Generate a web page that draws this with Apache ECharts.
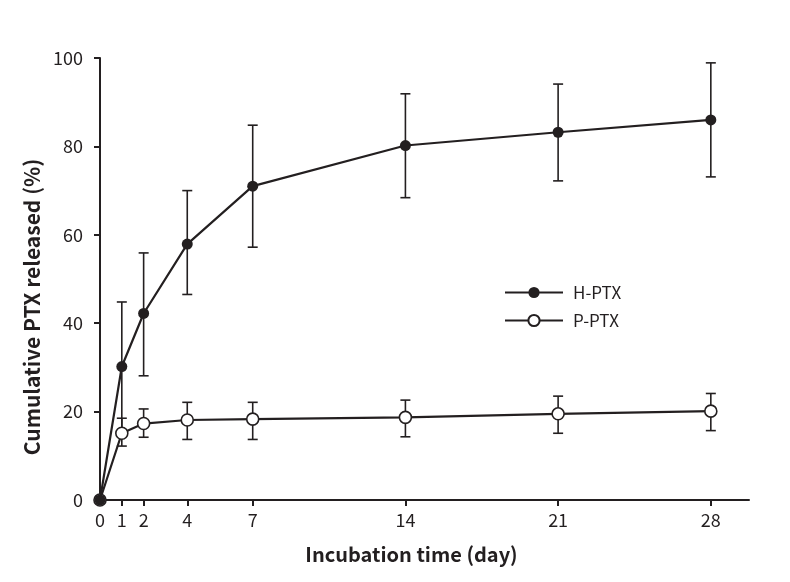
<!DOCTYPE html>
<html>
<head>
<meta charset="utf-8">
<script src="https://cdn.jsdelivr.net/npm/echarts@6/dist/echarts.min.js"></script>
<style>html,body{margin:0;padding:0;background:#fff;}#c{width:790px;height:582px;}</style>
</head>
<body>
<div id="c"></div>
<script>
// Data
const days = [0, 1, 2, 4, 7, 14, 21, 28];
const xTickValues = [0, 1, 2, 4, 7, 14, 21, 28];
const hMean = [0, 30.2, 42.2, 57.9, 71.0, 80.2, 83.2, 86.0];
const hLow  = [0, 15.6, 28.1, 46.5, 57.2, 68.4, 72.2, 73.1];
const hHigh = [0, 44.8, 55.9, 70.0, 84.8, 91.9, 94.1, 98.9];
const pMean = [0, 15.1, 17.3, 18.1, 18.3, 18.7, 19.5, 20.1];
const pLow  = [0, 12.2, 14.2, 13.7, 13.7, 14.3, 15.1, 15.7];
const pHigh = [0, 18.5, 20.6, 22.1, 22.1, 22.6, 23.5, 24.1];
const seriesNames = ['H-PTX', 'P-PTX'];
const yTitle = 'Cumulative PTX released (%)';
const xTitle = 'Incubation time (day)';

const ink = '#231f20';
const font = '"Noto Sans CJK KR", "Noto Sans", sans-serif';

function pairs(xs, ys) { return xs.map((x, i) => [x, ys[i]]); }
function errData(xs, lo, hi) {
  return xs.map((x, i) => [x, lo[i], hi[i]]).filter(d => d[2] - d[1] > 0.01);
}
function errRender(params, api) {
  const x = api.value(0);
  const a = api.coord([x, api.value(1)]);
  const b = api.coord([x, api.value(2)]);
  const w = 5;
  const st = { stroke: ink, lineWidth: 1.6 };
  return {
    type: 'group',
    children: [
      { type: 'line', shape: { x1: a[0], y1: a[1], x2: b[0], y2: b[1] }, style: st },
      { type: 'line', shape: { x1: a[0] - w, y1: a[1], x2: a[0] + w, y2: a[1] }, style: st },
      { type: 'line', shape: { x1: b[0] - w, y1: b[1], x2: b[0] + w, y2: b[1] }, style: st }
    ]
  };
}

const chart = echarts.init(document.getElementById('c'), null, { renderer: 'canvas' });
chart.setOption({
  animation: false,
  backgroundColor: '#fff',
  textStyle: { fontFamily: font },
  grid: { left: 100, top: 58, right: 41, bottom: 82, containLabel: false },
  legend: {
    left: 499, top: 279, orient: 'vertical', itemGap: 11,
    itemWidth: 58, itemHeight: 14,
    data: seriesNames,
    textStyle: { fontFamily: font, fontSize: 17, color: ink, padding: [0, 0, 0, 5] }
  },
  xAxis: {
    type: 'value', min: 0, max: 29.75,
    name: xTitle, nameLocation: 'middle', nameGap: 44,
    nameTextStyle: { fontFamily: font, fontSize: 20, fontWeight: 'bold', color: ink, padding: [0, 26, 0, 0] },
    axisLine: { show: true, onZero: false, lineStyle: { color: ink, width: 2 } },
    axisTick: { show: true, length: 6, lineStyle: { color: ink, width: 2 }, customValues: xTickValues },
    axisLabel: { fontSize: 18, color: ink, margin: 11, customValues: xTickValues, fontFamily: font },
    splitLine: { show: false }
  },
  yAxis: {
    type: 'value', min: 0, max: 100, interval: 20,
    name: yTitle, nameLocation: 'middle', nameGap: 56, nameRotate: 90,
    nameTextStyle: { fontFamily: font, fontSize: 21, fontWeight: 'bold', color: ink, padding: [0, 56, 0, 0] },
    axisLine: { show: true, lineStyle: { color: ink, width: 2 } },
    axisTick: { show: true, length: 6, lineStyle: { color: ink, width: 2 } },
    axisLabel: { fontSize: 18, color: ink, margin: 17, fontFamily: font },
    splitLine: { show: false }
  },
  series: [
    { type: 'custom', name: 'errP', renderItem: errRender, data: errData(days, pLow, pHigh),
      encode: { x: 0, y: [1, 2] }, z: 1, silent: true, clip: false },
    { type: 'custom', name: 'errH', renderItem: errRender, data: errData(days, hLow, hHigh),
      encode: { x: 0, y: [1, 2] }, z: 1, silent: true, clip: false },
    { type: 'line', name: seriesNames[1], data: pairs(days, pMean), z: 3, clip: false,
      symbol: 'circle', symbolSize: 12, showAllSymbol: true,
      lineStyle: { color: ink, width: 2.2 },
      itemStyle: { color: '#fff', borderColor: ink, borderWidth: 1.6 } },
    { type: 'line', name: seriesNames[0], data: pairs(days, hMean), z: 4, clip: false,
      symbol: 'circle', symbolSize: 11, showAllSymbol: true,
      lineStyle: { color: ink, width: 2.2 },
      itemStyle: { color: ink, borderColor: ink, borderWidth: 0 } }
  ]
});
</script>
</body>
</html>
